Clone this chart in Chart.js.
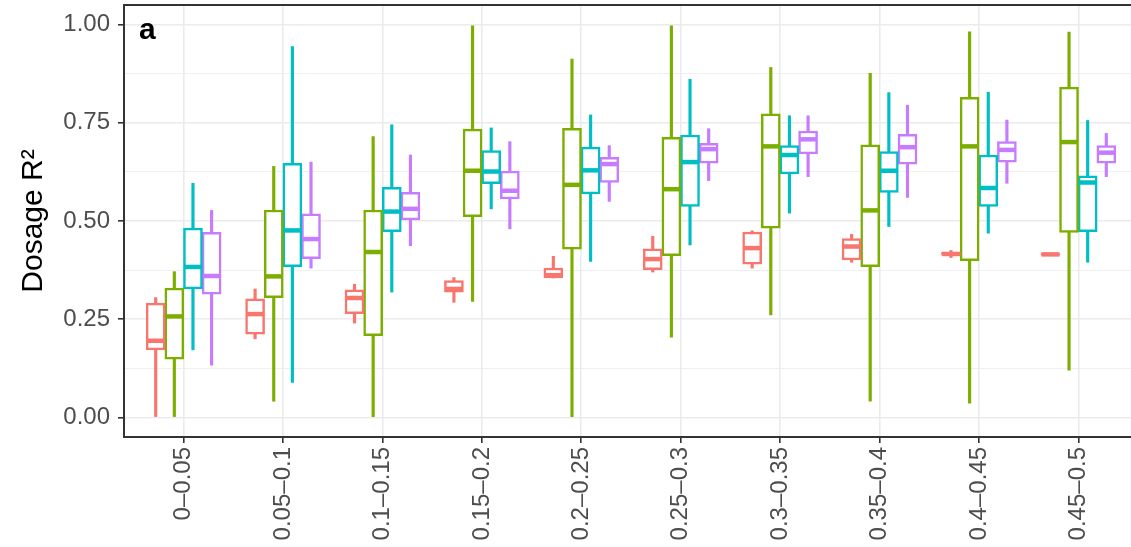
<!DOCTYPE html>
<html>
<head>
<meta charset="utf-8">
<script src="https://cdn.jsdelivr.net/npm/chart.js@4.4.1/dist/chart.umd.min.js"></script>
<style>
html, body { margin: 0; padding: 0; background: #ffffff; overflow: hidden; }
#wrap { position: relative; width: 1142px; height: 547px; }
</style>
</head>
<body>
<div id="wrap"><canvas id="dosage-chart"></canvas></div>
<script>
const categories = ['0–0.05', '0.05–0.1', '0.1–0.15', '0.15–0.2', '0.2–0.25',
                    '0.25–0.3', '0.3–0.35', '0.35–0.4', '0.4–0.45', '0.45–0.5'];
const groupColors = ['#F8766D', '#7CAE00', '#00BFC4', '#C77CFF'];
const yTicks = [0, 0.25, 0.5, 0.75, 1];
const yMinorTicks = [0.125, 0.375, 0.625, 0.875];

// rows: red, green, cyan, purple group; columns: the ten bins
const whiskerLow = [
  [0.000, 0.200, 0.240, 0.293, 0.355, 0.370, 0.380, 0.395, 0.407, 0.413],
  [0.000, 0.041, 0.000, 0.295, 0.000, 0.204, 0.261, 0.041, 0.036, 0.120],
  [0.172, 0.089, 0.319, 0.531, 0.397, 0.439, 0.520, 0.486, 0.469, 0.395],
  [0.133, 0.380, 0.437, 0.480, 0.550, 0.603, 0.613, 0.560, 0.596, 0.613]
];
const quartileLow = [
  [0.172, 0.212, 0.264, 0.319, 0.355, 0.376, 0.390, 0.401, 0.413, 0.413],
  [0.148, 0.305, 0.208, 0.511, 0.428, 0.412, 0.482, 0.384, 0.399, 0.471],
  [0.327, 0.384, 0.473, 0.595, 0.569, 0.537, 0.620, 0.573, 0.537, 0.473],
  [0.314, 0.404, 0.503, 0.556, 0.598, 0.647, 0.671, 0.645, 0.650, 0.647]
];
const medians = [
  [0.195, 0.263, 0.304, 0.327, 0.362, 0.403, 0.431, 0.435, 0.416, 0.415],
  [0.257, 0.359, 0.421, 0.628, 0.592, 0.581, 0.690, 0.527, 0.690, 0.701],
  [0.383, 0.476, 0.524, 0.626, 0.629, 0.650, 0.668, 0.628, 0.584, 0.598],
  [0.360, 0.454, 0.531, 0.577, 0.645, 0.683, 0.708, 0.688, 0.681, 0.674]
];
const quartileHigh = [
  [0.291, 0.302, 0.325, 0.348, 0.380, 0.429, 0.472, 0.455, 0.420, 0.417],
  [0.329, 0.528, 0.528, 0.734, 0.736, 0.713, 0.773, 0.694, 0.815, 0.841],
  [0.482, 0.647, 0.586, 0.679, 0.688, 0.719, 0.692, 0.677, 0.668, 0.615],
  [0.471, 0.518, 0.573, 0.627, 0.662, 0.698, 0.729, 0.721, 0.702, 0.692]
];
const whiskerHigh = [
  [0.305, 0.327, 0.339, 0.356, 0.410, 0.461, 0.475, 0.466, 0.425, 0.417],
  [0.371, 0.639, 0.715, 0.997, 0.912, 0.997, 0.891, 0.876, 0.982, 0.981],
  [0.596, 0.944, 0.745, 0.737, 0.770, 0.861, 0.768, 0.827, 0.828, 0.756],
  [0.527, 0.650, 0.668, 0.702, 0.692, 0.735, 0.768, 0.795, 0.757, 0.723]
];

// dodge offsets of the four boxes inside one bin (dodge width 0.75)
const dodge = [-0.28125, -0.09375, 0.09375, 0.28125];

Chart.defaults.font.family = '"Liberation Sans", Arial, sans-serif';

const datasets = [];
groupColors.forEach((col, g) => {
  const xs = categories.map((c, i) => i + dodge[g]);
  datasets.push({
    type: 'bar', order: 3, grouped: false, barThickness: 2.5,
    backgroundColor: col, borderWidth: 0,
    data: xs.map((x, i) => ({x: x, y: [whiskerLow[g][i], whiskerHigh[g][i]]}))
  });
  datasets.push({
    type: 'bar', order: 2, grouped: false, barThickness: 19,
    backgroundColor: '#ffffff', borderColor: col, borderWidth: 2.5, borderSkipped: false,
    data: xs.map((x, i) => ({x: x, y: [quartileLow[g][i], quartileHigh[g][i]]}))
  });
  datasets.push({
    type: 'scatter', order: 1, pointStyle: 'line', pointRadius: 9,
    borderColor: col, borderWidth: 4.5,
    data: xs.map((x, i) => ({x: x, y: medians[g][i]}))
  });
});

const panelFrame = {
  id: 'panelFrame',
  afterDraw(chart) {
    const {ctx, chartArea} = chart;
    ctx.save();
    ctx.strokeStyle = '#333333';
    ctx.lineWidth = 2;
    ctx.strokeRect(chartArea.left, chartArea.top, chartArea.right - chartArea.left, chartArea.bottom - chartArea.top);
    ctx.fillStyle = '#000000';
    ctx.font = 'bold 30px "Liberation Sans", Arial, sans-serif';
    ctx.textBaseline = 'alphabetic';
    ctx.fillText('a', chartArea.left + 15, chartArea.top + 34);
    ctx.restore();
  }
};

function noEdgePadding(scale) {
  scale.paddingTop = 0;
  scale.paddingBottom = 0;
  scale.paddingLeft = 0;
  scale.paddingRight = 0;
}

const ctx = document.getElementById('dosage-chart').getContext('2d');
const dosageChart = new Chart(ctx, {
  type: 'bar',
  data: { datasets: datasets },
  plugins: [panelFrame],
  options: {
    responsive: true,
    maintainAspectRatio: false,
    animation: false,
    events: [],
    layout: { autoPadding: false, padding: { left: 0, right: 4, top: 5, bottom: 0 } },
    plugins: {
      legend: { display: false },
      tooltip: { enabled: false }
    },
    scales: {
      x: {
        type: 'linear',
        min: -0.6,
        max: 9.6,
        offset: false,
        afterBuildTicks: (scale) => { scale.ticks = categories.map((c, i) => ({value: i})); },
        afterFit: (scale) => { scale.height = 110; noEdgePadding(scale); },
        border: { display: false },
        grid: {
          offset: false,
          color: '#ebebeb',
          lineWidth: 1.6,
          tickColor: '#333333',
          tickLength: 6,
          tickWidth: 1.6
        },
        ticks: {
          autoSkip: false,
          minRotation: 90,
          maxRotation: 90,
          padding: 4,
          color: '#4d4d4d',
          font: { size: 24 },
          callback: (v) => categories[v]
        }
      },
      y: {
        type: 'linear',
        min: -0.05,
        max: 1.05,
        afterBuildTicks: (scale) => {
          scale.ticks = yTicks.concat(yMinorTicks).sort((a, b) => a - b).map(v => ({value: v}));
        },
        afterFit: (scale) => { scale.width = 124; noEdgePadding(scale); },
        border: { display: false },
        grid: {
          color: '#ebebeb',
          lineWidth: (c) => yTicks.includes(c.tick.value) ? 1.6 : 0.8,
          tickColor: (c) => yTicks.includes(c.tick.value) ? '#333333' : 'rgba(0,0,0,0)',
          tickLength: 6,
          tickWidth: 1.6
        },
        ticks: {
          autoSkip: false,
          padding: 8,
          color: '#4d4d4d',
          font: { size: 24 },
          callback: (v) => yTicks.includes(v) ? v.toFixed(2) : ''
        },
        title: {
          display: true,
          text: 'Dosage R²',
          color: '#000000',
          font: { size: 30 },
          padding: { top: 16, bottom: 0 }
        }
      }
    }
  }
});
</script>
</body>
</html>
